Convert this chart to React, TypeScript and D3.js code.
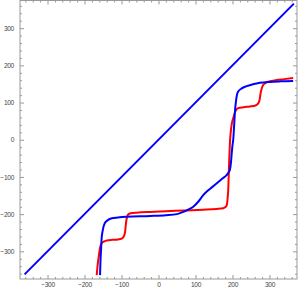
import React, { useEffect, useRef } from 'react';
import * as d3 from 'd3';

// plot data
const diagX = [-362, 366];
const diagY = [-362, 366];

const redX = [-167, -165, -161, -158, -154, -148, -140, -125, -110, -98, -93, -90, -88, -85, -81, -72, -59, -23, 20, 67, 120, 157, 175, 181, 185, 187, 188.5, 190, 191.5, 193, 195, 198, 202, 206, 210, 215, 230, 247, 262, 269, 273, 276, 279, 283, 292, 305, 319, 340, 364];
const redY = [-364, -341, -310, -290, -279, -274, -271, -269, -268, -265, -258, -245, -225, -208, -200, -197, -196, -194, -192, -190, -188, -186, -184, -181, -174, -155, -135, -90, -46, -10, 18, 42, 58, 72, 80, 85, 87.5, 89.5, 92, 97, 106, 125, 138, 147, 154, 158, 160.5, 163, 166];

const blueX = [-158, -157, -155, -154, -151, -145, -137, -126, -110, -86, -23, 20, 50, 67, 80, 94, 108, 121, 132, 144, 160, 172, 184, 190, 193, 196, 198, 200, 202, 204, 207, 210, 215, 225, 238, 255, 274, 300, 330, 364];
const blueY = [-364, -330, -290, -269, -245, -224, -216, -211, -209, -207, -205, -203, -200, -194, -188, -180, -166, -149, -138, -128, -115, -105, -95, -87, -81, -60, -36, -15, 0, 30, 80, 108, 129, 138, 144, 149, 153, 155.5, 157, 158];

const majorTicks = [-300, -200, -100, 0, 100, 200, 300];
const minorTicks = d3.range(-360, 361, 20).filter(v => v % 100 !== 0);

const W = 300;
const H = 291;

function App() {
  const ref = useRef<SVGSVGElement>(null);

  useEffect(() => {
    const svg = d3.select(ref.current);
    svg.selectAll('*').remove();

    const x = d3.scaleLinear().domain([-374.4, 374.4]).range([20, 297]);
    const y = d3.scaleLinear().domain([-374.4, 374.4]).range([279, 0.5]);

    const frame = '#999';
    const fmt = (d: any) => (d < 0 ? '\u2212' + Math.abs(d) : '' + d);

    const addAxis = (axis: any, tx: number, ty: number, labels: boolean) => {
      const g = svg.append('g').attr('transform', `translate(${tx},${ty})`).call(axis);
      g.select('.domain').remove();
      g.selectAll('line').attr('stroke', frame);
      if (!labels) g.selectAll('text').remove();
      else
        g.selectAll('text')
          .attr('fill', '#444')
          .style('font-family', '"Liberation Sans", Arial, sans-serif')
          .style('font-size', '6.6px')
          .style('letter-spacing', '-0.3px');
    };

    // bottom
    addAxis(d3.axisBottom(x).tickValues(majorTicks).tickSize(-4).tickPadding(3.5).tickFormat(fmt), 0, 279, true);
    addAxis(d3.axisBottom(x).tickValues(minorTicks).tickSize(-2).tickFormat(() => ''), 0, 279, false);
    // left
    addAxis(d3.axisLeft(y).tickValues(majorTicks).tickSize(-4).tickPadding(6).tickFormat(fmt), 20, 0, true);
    addAxis(d3.axisLeft(y).tickValues(minorTicks).tickSize(-2).tickFormat(() => ''), 20, 0, false);
    // top
    addAxis(d3.axisTop(x).tickValues(majorTicks).tickSize(-4), 0, 0.5, false);
    addAxis(d3.axisTop(x).tickValues(minorTicks).tickSize(-2), 0, 0.5, false);
    // right
    addAxis(d3.axisRight(y).tickValues(majorTicks).tickSize(-4), 297, 0, false);
    addAxis(d3.axisRight(y).tickValues(minorTicks).tickSize(-2), 297, 0, false);

    svg.append('rect')
      .attr('x', 20)
      .attr('y', 0.5)
      .attr('width', 277)
      .attr('height', 278.5)
      .attr('fill', 'none')
      .attr('stroke', frame)
      .attr('stroke-width', 1);

    const line = d3.line<[number, number]>()
      .x(d => x(d[0]))
      .y(d => y(d[1]))
      .curve(d3.curveMonotoneX);

    const series = [
      { xs: diagX, ys: diagY, color: '#0000ff' },
      { xs: redX, ys: redY, color: '#ff0000' },
      { xs: blueX, ys: blueY, color: '#0000ff' }
    ];

    svg.append('clipPath').attr('id', 'plotclip')
      .append('rect').attr('x', 20).attr('y', 0.5).attr('width', 277).attr('height', 278.5);

    svg.append('g').attr('clip-path', 'url(#plotclip)')
      .selectAll('path')
      .data(series)
      .enter()
      .append('path')
      .attr('d', s => line(s.xs.map((v, i) => [v, s.ys[i]] as [number, number])))
      .attr('fill', 'none')
      .attr('stroke', s => s.color)
      .attr('stroke-width', 2)
      .attr('stroke-linejoin', 'round');
  }, []);

  return (
    <svg
      ref={ref}
      width={W}
      height={H}
      style={{ position: 'absolute', left: 0, top: 0, background: '#fff' }}
    />
  );
}

export default App;
